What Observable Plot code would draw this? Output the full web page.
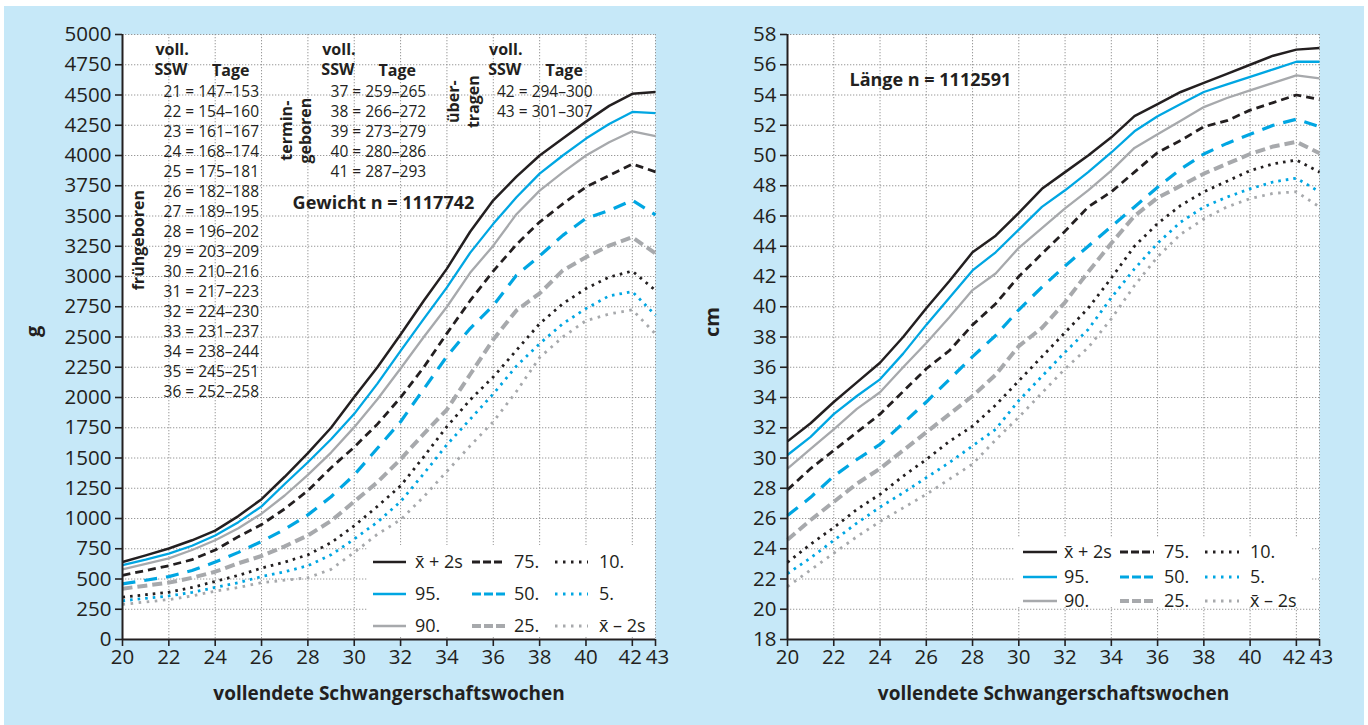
<!DOCTYPE html>
<html><head><meta charset="utf-8">
<script src="https://cdn.jsdelivr.net/npm/d3@7"></script>
<script src="https://cdn.jsdelivr.net/npm/@observablehq/plot@0.6"></script>
<style>
html,body{margin:0;padding:0;background:#fff;}
#page{position:relative;width:1368px;height:725px;overflow:hidden;font-family:"Open Sans",sans-serif;}
#bg{position:absolute;left:4px;top:6px;width:1360px;height:719px;background:#c6e8f8;}
.chart{position:absolute;top:0;}
.legend{position:absolute;background:#fff;}
.legend svg{overflow:visible;}
</style></head><body>
<div id="page"><div id="bg"></div>
<div id="left" class="chart" style="left:0px"></div>
<div id="right" class="chart" style="left:680px"></div>
<div id="legL" class="legend" style="left:368px;top:545px;width:287px;height:92px"></div>
<div id="legR" class="legend" style="left:1015px;top:537px;width:297px;height:70px"></div>
</div>
<script>
// ---------- data ----------
const weeks = [20,21,22,23,24,25,26,27,28,29,30,31,32,33,34,35,36,37,38,39,40,41,42,43];
const seriesNames = ["x̄+2s","95.","90.","75.","50.","25.","10.","5.","x̄−2s"];
const legendLabels = ["x\u0304 + 2s","95.","90.","75.","50.","25.","10.","5.","x\u0304 – 2s"];
const xTicks = [20,22,24,26,28,30,32,34,36,38,40,42,43];
const gTicks = [0,250,500,750,1000,1250,1500,1750,2000,2250,2500,2750,3000,3250,3500,3750,4000,4250,4500,4750,5000];
const cmTicks = [18,20,22,24,26,28,30,32,34,36,38,40,42,44,46,48,50,52,54,56,58];

// Gewicht (g)
const gPlus2s = [640,695,752,820,900,1020,1160,1345,1540,1750,2005,2250,2520,2800,3065,3370,3630,3825,4000,4140,4280,4410,4510,4525];
const g95 = [615,660,710,775,860,970,1100,1285,1465,1655,1865,2115,2385,2650,2910,3195,3435,3655,3850,4000,4140,4260,4360,4350];
const g90 = [580,625,670,740,820,920,1040,1190,1360,1545,1755,1985,2240,2500,2750,3030,3255,3515,3710,3860,4000,4110,4200,4160];
const g75 = [530,570,610,660,740,850,950,1080,1230,1420,1590,1780,2000,2250,2530,2800,3045,3265,3450,3600,3740,3835,3930,3865];
const g50 = [460,490,520,570,640,720,810,910,1030,1180,1360,1580,1800,2070,2340,2570,2760,3010,3170,3340,3480,3545,3630,3510];
const g25 = [420,445,470,510,560,630,690,770,860,980,1140,1300,1490,1700,1900,2190,2480,2720,2860,3050,3160,3255,3325,3190];
const g10 = [350,370,390,430,480,530,590,640,700,800,940,1100,1270,1510,1760,1980,2170,2390,2610,2775,2900,2995,3045,2885];
const g5 = [320,340,360,390,430,470,520,560,610,700,830,970,1140,1370,1610,1820,2030,2260,2445,2610,2735,2840,2875,2680];
const gMinus2s = [290,310,330,360,400,430,470,490,510,580,720,870,990,1180,1390,1600,1800,2050,2330,2500,2635,2690,2725,2525];

// Länge (cm)
const cPlus2s = [31.1,32.3,33.7,35.0,36.3,38.0,39.9,41.7,43.6,44.7,46.2,47.8,48.9,50.0,51.2,52.6,53.4,54.2,54.8,55.4,56.0,56.6,57.0,57.1];
const c95 = [30.2,31.4,32.9,34.1,35.2,36.9,38.8,40.6,42.4,43.6,45.1,46.6,47.7,48.9,50.2,51.6,52.6,53.4,54.2,54.7,55.2,55.7,56.2,56.2];
const c90 = [29.3,30.6,31.9,33.25,34.35,36.0,37.6,39.3,41.1,42.2,43.9,45.2,46.5,47.7,49.0,50.5,51.4,52.3,53.2,53.8,54.3,54.8,55.3,55.1];
const c75 = [27.9,29.3,30.5,31.7,32.9,34.4,35.9,37.1,38.8,40.2,42.0,43.5,45.0,46.6,47.6,48.9,50.2,51.0,51.9,52.3,53.0,53.5,54.0,53.7];
const c50 = [26.2,27.4,28.8,29.9,30.9,32.3,33.7,35.2,36.7,38.1,39.8,41.3,42.7,44.0,45.3,46.6,47.9,49.1,50.1,50.8,51.4,52.0,52.4,51.9];
const c25 = [24.6,25.9,27.1,28.3,29.3,30.5,31.7,32.9,34.1,35.5,37.4,38.6,40.3,42.3,44.2,46.0,47.2,48.0,48.8,49.45,50.1,50.6,50.9,50.15];
const c10 = [23.1,24.3,25.4,26.6,27.6,28.8,29.9,31.1,32.1,33.5,35.1,36.7,38.3,39.9,41.9,44.0,45.5,46.7,47.6,48.3,49.0,49.45,49.7,48.9];
const c5 = [22.35,23.4,24.55,25.7,26.75,27.7,28.7,29.7,30.8,31.9,33.8,35.4,37.0,38.5,40.6,42.5,44.2,45.6,46.6,47.25,47.8,48.25,48.5,47.6];
const cMinus2s = [21.5,22.6,23.7,24.8,25.8,26.7,27.6,28.6,29.6,31.2,32.7,34.3,35.9,37.3,39.2,41.4,43.3,44.8,45.8,46.6,47.15,47.5,47.6,46.6];

// annotation texts
const sswHead = ["voll.","SSW","Tage"];
const sswPreterm = ["21 = 147–153","22 = 154–160","23 = 161–167","24 = 168–174","25 = 175–181","26 = 182–188","27 = 189–195","28 = 196–202","29 = 203–209","30 = 210–216","31 = 217–223","32 = 224–230","33 = 231–237","34 = 238–244","35 = 245–251","36 = 252–258"];
const sswTerm = ["37 = 259–265","38 = 266–272","39 = 273–279","40 = 280–286","41 = 287–293"];
const sswPost = ["42 = 294–300","43 = 301–307"];
const groupLabels = ["frühgeboren","termin-\ngeboren","über-\ntragen"];
const weightTitle = "Gewicht n = 1117742";
const lengthTitle = "Länge n = 1112591";
const xTitle = "vollendete Schwangerschaftswochen";

// ---------- styles ----------
const INK = "#231f20", BLUE = "#00a6e2", GRAY = "#a7a9ac";
const lineStyles = [
  {stroke: INK, strokeWidth: 2.5, dash: null},
  {stroke: BLUE, strokeWidth: 2.3, dash: null},
  {stroke: GRAY, strokeWidth: 2.3, dash: null},
  {stroke: INK, strokeWidth: 2.8, dash: "8,5"},
  {stroke: BLUE, strokeWidth: 3.2, dash: "13,9"},
  {stroke: GRAY, strokeWidth: 4, dash: "10,5"},
  {stroke: INK, strokeWidth: 2.8, dash: "2.6,5"},
  {stroke: BLUE, strokeWidth: 2.8, dash: "2.6,5"},
  {stroke: GRAY, strokeWidth: 2.8, dash: "2.6,5.5"}
];
const FONT = "'Open Sans', sans-serif";

function rowsOf(arrs) {
  return arrs.flatMap((vals, s) => vals.map((v, i) => ({week: weeks[i], value: v, series: seriesNames[s]})));
}

function lineMarks(rows) {
  return seriesNames.map((name, s) => {
    const st = lineStyles[s];
    return Plot.line(rows.filter(r => r.series === name), {
      x: "week", y: "value", stroke: st.stroke, strokeWidth: st.strokeWidth,
      strokeDasharray: st.dash, strokeLinecap: "butt", strokeLinejoin: "round"
    });
  }).reverse();
}

function baseMarks(yTicks, yLabel, yLabelDx) {
  const grid = {stroke: "#8c8c8c", strokeOpacity: 1, strokeWidth: 0.9, strokeDasharray: "1.3,1.7"};
  const fmt = d => String(d);
  const xl = {tickSize: 0, tickPadding: 10, fontSize: 20.5, label: null, tickFormat: fmt};
  const last = xTicks.length - 1;
  return [
    Plot.frame({fill: "white", stroke: "none"}),
    Plot.gridX(xTicks, grid),
    Plot.gridY(yTicks, grid),
    Plot.axisX(xTicks, {tickSize: 7, label: null, strokeWidth: 1.6, tickFormat: () => ""}),
    Plot.axisX(xTicks.slice(0, last - 1), xl),
    Plot.axisX([xTicks[last - 1]], {...xl, dx: -2}),
    Plot.axisX([xTicks[last]], {...xl, dx: 2}),
    Plot.axisY(yTicks, {tickSize: 7, tickPadding: 4, fontSize: 20.5, label: null, strokeWidth: 1.6, tickFormat: fmt}),
    Plot.text([yLabel], {text: d => d, frameAnchor: "left", dx: yLabelDx, rotate: -90, fontWeight: "bold", fontSize: 20, fill: INK}),
    Plot.text([xTitle], {text: d => d, frameAnchor: "bottom", dy: 60, fontWeight: "bold", fontSize: 19, fill: INK})
  ];
}

function axisLines(xDomain, yDomain) {
  return [
    Plot.ruleX([xDomain[0]], {stroke: INK, strokeWidth: 2}),
    Plot.ruleY([yDomain[0]], {stroke: INK, strokeWidth: 2})
  ];
}

const plotStyle = {background: "transparent", fontFamily: FONT, color: INK, overflow: "visible"};

// ---------- left chart: weight ----------
const gDomain = [0, 5000], xDomain = [20, 43];
const gRows = rowsOf([gPlus2s,g95,g90,g75,g50,g25,g10,g5,gMinus2s]);
const headOpts = {text: d => d, fontWeight: "bold", fontSize: 16, fill: INK, textAnchor: "start"};
const listOpts = {text: d => d, fontSize: 15.5, fill: INK, textAnchor: "start"};

const left = Plot.plot({
  width: 680, height: 725,
  marginLeft: 122, marginRight: 25, marginTop: 34, marginBottom: 86,
  x: {domain: xDomain}, y: {domain: gDomain},
  style: plotStyle,
  marks: [
    ...baseMarks(gTicks, "g", -89),
    Plot.text(sswHead, {...headOpts, x: (d,i) => [21.42,21.38,23.86][i], y: (d,i) => [4870,4705,4700][i]}),
    Plot.text(sswHead, {...headOpts, x: (d,i) => [28.62,28.58,31.05][i], y: (d,i) => [4870,4705,4700][i]}),
    Plot.text(sswHead, {...headOpts, x: (d,i) => [35.82,35.78,38.25][i], y: (d,i) => [4870,4705,4700][i]}),
    Plot.text(sswPreterm, {...listOpts, x: () => 21.77, y: (d,i) => 4521 - i*165.3}),
    Plot.text(sswTerm, {...listOpts, x: () => 28.98, y: (d,i) => 4521 - i*165.3}),
    Plot.text(sswPost, {...listOpts, x: () => 36.16, y: (d,i) => 4521 - i*165.3}),
    Plot.text([groupLabels[0]], {text: d => d, x: () => 20.66, y: () => 3300, rotate: -90, fontWeight: "bold", fontSize: 16, fill: INK, lineHeight: 1.2}),
    Plot.text([groupLabels[1]], {text: d => d, x: () => 27.47, y: () => 4205, rotate: -90, fontWeight: "bold", fontSize: 16, fill: INK, lineHeight: 1.2}),
    Plot.text([groupLabels[2]], {text: d => d, x: () => 34.69, y: () => 4445, rotate: -90, fontWeight: "bold", fontSize: 16, fill: INK, lineHeight: 1.2}),
    Plot.text([weightTitle], {text: d => d, x: () => 27.34, y: () => 3603, textAnchor: "start", fontWeight: "bold", fontSize: 18, fill: INK}),
    ...lineMarks(gRows),
    ...axisLines(xDomain, gDomain)
  ]
});
document.getElementById("left").appendChild(left);

// ---------- right chart: length ----------
const cDomain = [18, 58];
const cRows = rowsOf([cPlus2s,c95,c90,c75,c50,c25,c10,c5,cMinus2s]);
const right = Plot.plot({
  width: 688, height: 725,
  marginLeft: 107, marginRight: 49, marginTop: 34, marginBottom: 86,
  x: {domain: xDomain}, y: {domain: cDomain},
  style: plotStyle,
  marks: [
    ...baseMarks(cmTicks, "cm", -75),
    Plot.text([lengthTitle], {text: d => d, x: () => 22.68, y: () => 54.96, textAnchor: "start", fontWeight: "bold", fontSize: 18, fill: INK}),
    ...lineMarks(cRows),
    ...axisLines(xDomain, cDomain)
  ]
});
document.getElementById("right").appendChild(right);

// ---------- legends ----------
function legend(id, cfg) {
  const svg = d3.select("#" + id).append("svg").attr("width", cfg.w).attr("height", cfg.h)
    .style("font-family", FONT).style("display", "block");
  seriesNames.forEach((name, i) => {
    const c = Math.floor(i / 3), r = i % 3, st = lineStyles[i];
    const y = cfg.rows[r];
    svg.append("line").attr("x1", cfg.sx[c]).attr("x2", cfg.sx[c] + cfg.sw)
      .attr("y1", y).attr("y2", y).attr("stroke", st.stroke)
      .attr("stroke-width", st.strokeWidth).attr("stroke-dasharray", cfg.dash[i]);
    svg.append("text").attr("x", cfg.lx[c]).attr("y", y).attr("dy", "0.35em")
      .attr("font-size", cfg.fs).attr("fill", INK).text(legendLabels[i]);
  });
}
const legDash = [null, null, null, "8,3", "9,3", "9,3", "2.5,5.5", "2.5,5.5", "2.5,5.5"];
legend("legL", {w: 287, h: 92, rows: [17, 49, 81], sx: [5, 104, 187], sw: 33, lx: [47, 146, 231], fs: 18, dash: legDash});
legend("legR", {w: 297, h: 70, rows: [15, 40, 64], sx: [8, 105, 190], sw: 34, lx: [49, 149, 235], fs: 18, dash: legDash});
</script>
</body></html>
